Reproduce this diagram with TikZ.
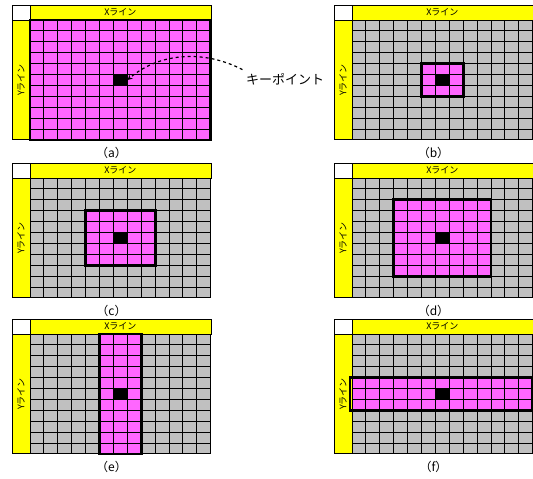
\documentclass[tikz,border=0pt]{standalone}
\usepackage{fontspec}
\setmainfont{Noto Sans CJK JP}
\usetikzlibrary{arrows.meta}
\definecolor{cellpink}{RGB}{255,102,255}
\definecolor{cellgray}{RGB}{192,192,192}
\definecolor{baryellow}{RGB}{255,255,0}

\begin{document}
\begin{tikzpicture}[x=1pt, y=-1pt,
        bar/.style={draw=black, fill=baryellow, line width=0.9pt},
        corner/.style={draw=black, fill=white, line width=0.9pt},
        gridline/.style={draw=black, line width=1pt},
        zone/.style={draw=black, line width=2.8pt},
        keycell/.style={fill=black, inner sep=0pt, minimum width=13.9pt, minimum height=10.9pt},
        barlabel/.style={font=\fontsize{9}{9}\selectfont, inner sep=0pt},
        caption/.style={font=\fontsize{12}{12}\selectfont}
    ]
    \useasboundingbox (0,0) rectangle (533,479);

    % six panels: origin, label, marked columns and rows
    \foreach \px/\py/\lbl/\ca/\cb/\ra/\rb/\ext in {12/5/a/0/12/0/10/0, 334/5/b/5/7/4/6/0, 12/163/c/4/8/3/7/0, 334/163/d/3/9/2/8/0, 12/319/e/5/7/0/10/0, 334/319/f/0/12/4/6/2}{
        \begin{scope}[shift={(\px,\py)}]
            % cells
            \fill[cellgray] (18,15) rectangle (199,134.9);
            \fill[cellpink] ({18+\ca*13.9},{15+\ra*10.9}) rectangle ({18+(\cb+1)*13.9},{15+(\rb+1)*10.9});
            \node[keycell] (key\lbl) at (108.35,74.95) {};
            \foreach \i in {0,...,13} \draw[gridline] ({18+\i*13.9},15) -- ({18+\i*13.9},134.9);
            \foreach \j in {0,...,11} \draw[gridline] (18,{15+\j*10.9}) -- (199,{15+\j*10.9});
            % X and Y lines
            \draw[corner] (0,0) rectangle (18,15);
            \draw[bar] (18,0) rectangle (199,15);
            \draw[bar] (0,15) rectangle (18,134.9);
            \node[barlabel] (xl\lbl) at (108.35,7.5) {Xライン};
            \node[barlabel, rotate=90] (yl\lbl) at (9,75) {Yライン};
            % marked area
            \draw[zone] ({18+\ca*13.9-\ext},{15+\ra*10.9}) rectangle ({18+(\cb+1)*13.9},{15+(\rb+1)*10.9});
            \node[caption] (cap\lbl) at (99.5,147.5) {（\lbl）};
        \end{scope}
    }

    % key point
    \node[font=\fontsize{13}{13}\selectfont] (kp) at (285,79) {キーポイント};
    \draw[dashed, line width=1.2pt, -{Stealth[length=5pt, width=5pt]}] (kp.north west) .. controls (205,50) and (160,52) .. (keya.east);

\end{tikzpicture}
\end{document}
